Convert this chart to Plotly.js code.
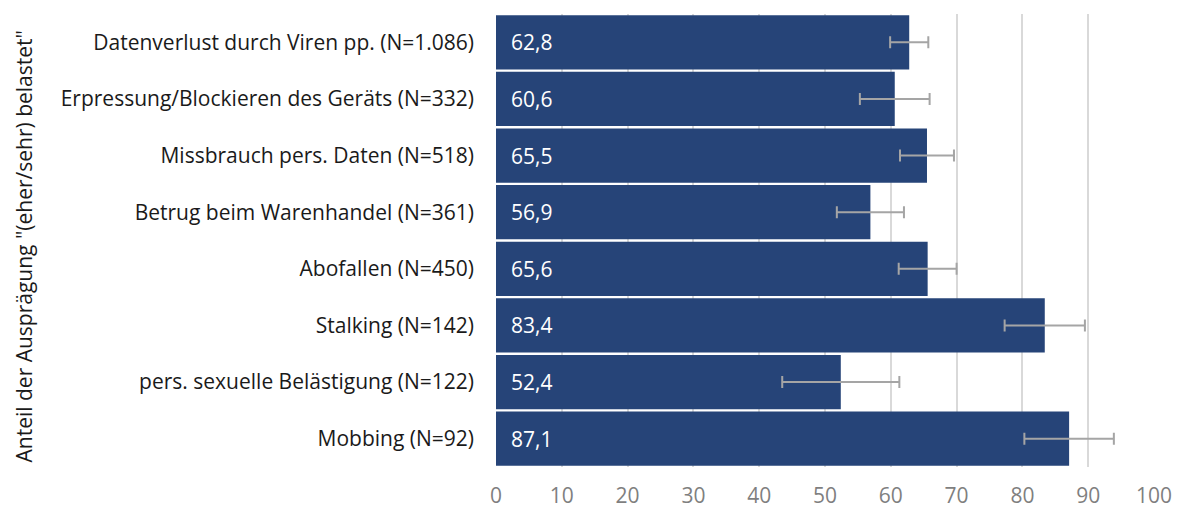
<!DOCTYPE html>
<html><head><meta charset="utf-8">
<script src="https://cdn.plot.ly/plotly-3.0.1.min.js"></script>
<style>html,body{margin:0;padding:0;background:#fff}#chart{width:1178px;height:508px}</style>
</head><body><div id="chart"></div>
<script>
const categories = [
  "Datenverlust durch Viren pp. (N=1.086)",
  "Erpressung/Blockieren des Geräts (N=332)",
  "Missbrauch pers. Daten (N=518)",
  "Betrug beim Warenhandel (N=361)",
  "Abofallen (N=450)",
  "Stalking (N=142)",
  "pers. sexuelle Belästigung (N=122)",
  "Mobbing (N=92)"
];
const values = [62.8, 60.6, 65.5, 56.9, 65.6, 83.4, 52.4, 87.1];
const errors = [2.9, 5.3, 4.1, 5.1, 4.4, 6.1, 8.9, 6.8];
const tickVals = [0,10,20,30,40,50,60,70,80,90,100];
const yTitle = 'Anteil der Ausprägung "(eher/sehr) belastet"';

const font = "'Open Sans', 'Noto Sans', sans-serif";
const trace = {
  type: 'bar', orientation: 'h',
  x: values, y: categories,
  marker: {color: '#264478', line: {width: 0}},
  error_x: {type: 'data', array: errors, visible: true, color: '#a5a5a5', thickness: 2, width: 6},
  hoverinfo: 'none'
};
const valueLabels = values.map((v, i) => ({
  x: 0, y: categories[i], xref: 'x', yref: 'y',
  text: v.toFixed(1).replace('.', ','), showarrow: false,
  xanchor: 'left', yanchor: 'middle', xshift: 13,
  font: {size: 21, color: '#ffffff', family: font}
}));
const layout = {
  width: 1178, height: 508,
  margin: {l: 496, r: 24, t: 14, b: 41},
  separators: ',.',
  bargap: 0.04,
  showlegend: false,
  paper_bgcolor: '#ffffff', plot_bgcolor: '#ffffff',
  font: {family: font},
  xaxis: {range: [0, 100], tickvals: tickVals, showgrid: true, gridcolor: '#d9d9d9', gridwidth: 2,
    zeroline: false, showline: false, ticks: '', ticklabelstandoff: 14,
    tickfont: {size: 21, color: '#7f7f7f', family: font}},
  yaxis: {autorange: 'reversed', showgrid: false, showline: false, ticks: '', ticklen: 0,
    ticklabelstandoff: 21,
    tickfont: {size: 21, color: '#1a1a1a', family: font}},
  annotations: valueLabels.concat([{
    text: yTitle, textangle: -90, xref: 'paper', yref: 'paper',
    x: -(496 - 23) / 658, y: 0.5, xanchor: 'center', yanchor: 'middle', showarrow: false,
    yshift: -6,
    font: {size: 21, color: '#1a1a1a', family: font}
  }])
};
Plotly.newPlot('chart', [trace], layout, {displayModeBar: false, staticPlot: true});
</script></body></html>
